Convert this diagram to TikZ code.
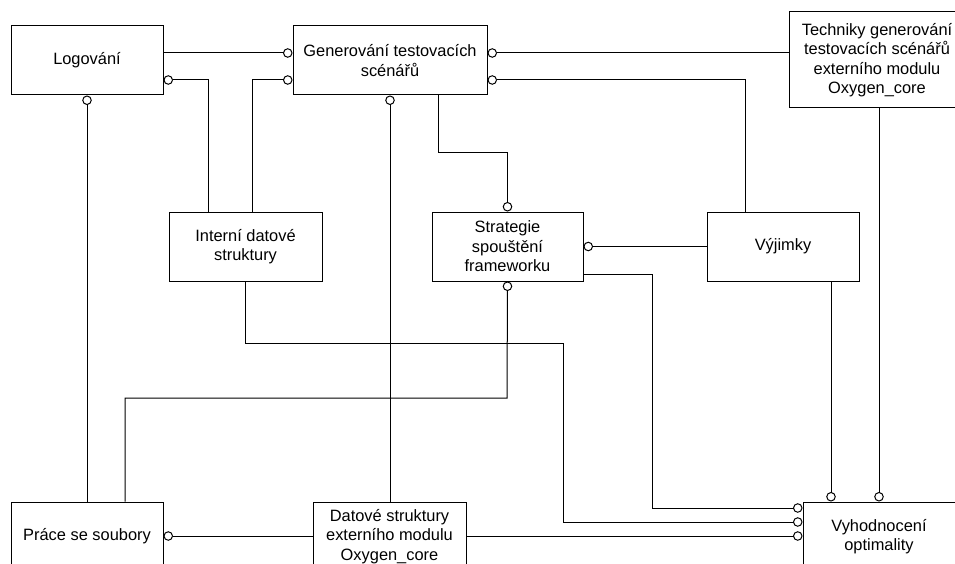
\documentclass[tikz,border=0pt]{standalone}
\usepackage{fontspec}
\setmainfont{Liberation Sans}
\usetikzlibrary{arrows.meta}

\tikzset{
	modul/.style={draw, line width=1pt, inner sep=0pt, align=center,
		minimum width=152pt, minimum height=69pt},
	link/.style={line width=1pt},
	ball/.style={-{Circle[open, length=9.5pt, width=9.5pt]}},
	ballstart/.style={{Circle[open, length=9.5pt, width=9.5pt]}-}
}

\begin{document}
\begin{tikzpicture}[x=1pt, y=-1pt]
		\fontsize{16.4}{19.5}\selectfont
		\useasboundingbox (0,0) rectangle (955,564);
%		\draw[gray!40] (0,0) grid[step=50] (955,564);
		\node[modul] (logo) at (87,60.5) {Logování};
		\node[modul, minimum width=194pt] (gen) at (390,60.5)
			{Generování testovacích\\scénářů};
		\node[modul, minimum width=176pt, minimum height=96pt] (tech) at (877,60)
			{Techniky generování\\testovacích scénářů\\externího modulu\\Oxygen\_core};

		\node[modul, minimum width=153pt] (intern) at (245.5,246.5)
			{Interní datové\\struktury};
		\node[modul, minimum width=151pt] (strat) at (507.5,246.5)
			{Strategie\\spouštění\\frameworku};
		\node[modul] (vyj) at (783,246.5) {Výjimky};

		\node[modul] (prace) at (87,536.5) {Práce se soubory};
		\node[modul, minimum width=153pt] (datove) at (389.5,536.5)
			{Datové struktury\\externího modulu\\Oxygen\_core};
		\node[modul] (vyhod) at (879,536.5) {Vyhodnocení\\optimality};

		% vazby nahore
		\draw[link, ball] (logo.east |- 0,53) -- (gen.west |- 0,53);
		\draw[link, ball] (intern.north -| 208,0) |- (logo.east |- 0,80);
		\draw[link, ball] (intern.north -| 252,0) |- (gen.west |- 0,80);
		\draw[link, ball] (tech.west |- 0,53) -- (gen.east |- 0,53);
		\draw[link, ball] (vyj.north -| 745,0) |- (gen.east |- 0,80);
		\draw[link, ball] (gen.south -| 438,0) -- (438,153) -| (strat.north);

		% svisle
		\draw[link, ball] (prace.north) -- (logo.south);
		\draw[link, ball] (datove.north -| gen.south) -- (gen.south);
		\draw[link, ball] (tech.south -| 879,0) -- (vyhod.north -| 879,0);
		\draw[link, ball] (vyj.south -| 831,0) -- (vyhod.north -| 831,0);

		% stred a dole
		\draw[link, ball] (vyj.west) -- (strat.east);
		\draw[link, ball] (strat.east |- 0,274) -| (652,508)
			-- (vyhod.west |- 0,508);
		\draw[link, ball] (intern.south) |- (563,343)
			|- (vyhod.west |- 0,522);
		\draw[link, ball] (datove.east |- 0,536) -- (vyhod.west |- 0,536);
		\draw[link, ballstart] (strat.south) -- (507,398)
			-| (prace.north -| 125,0);
		\draw[link, ball] (datove.west |- 0,536) -- (prace.east |- 0,536);
	\end{tikzpicture}
\end{document}
